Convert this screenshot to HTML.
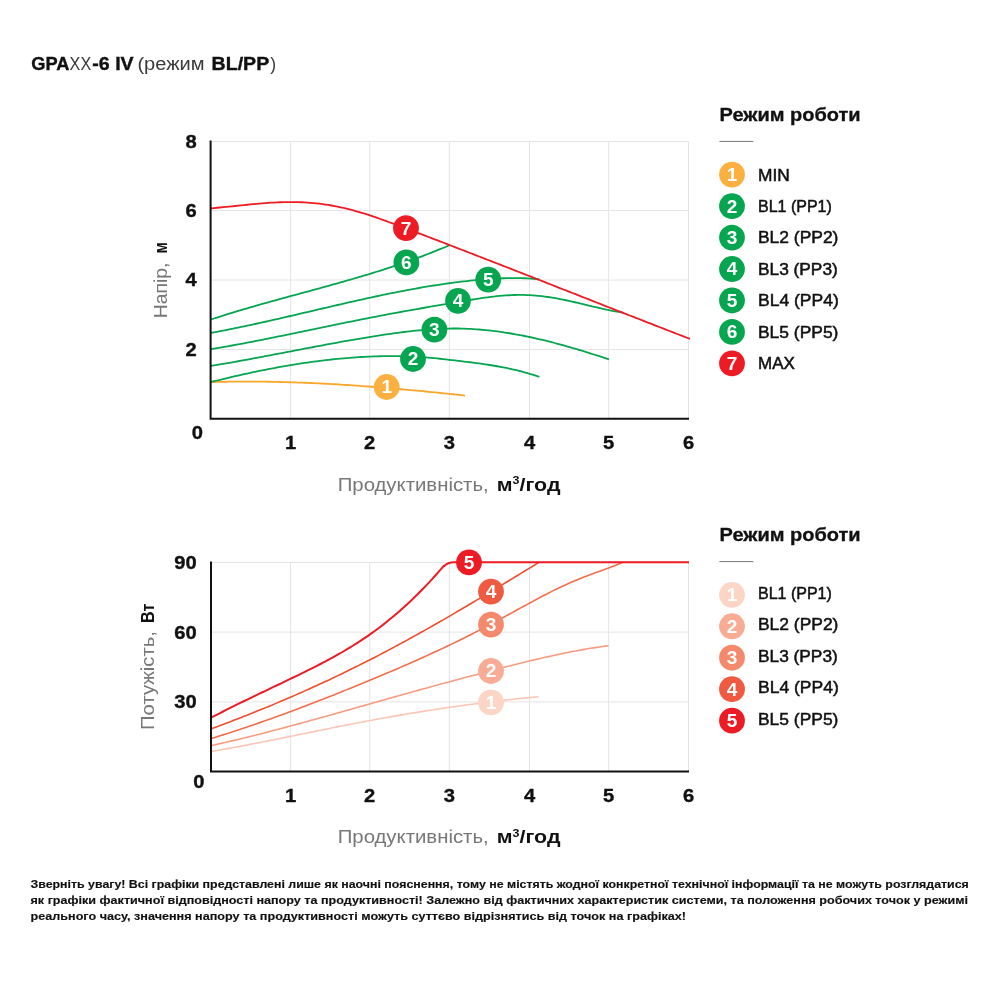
<!DOCTYPE html>
<html><head><meta charset="utf-8"><title>GPAXX-6 IV</title>
<style>
html,body{margin:0;padding:0;background:#fff;}
body{width:1000px;height:1000px;overflow:hidden;font-family:"Liberation Sans", sans-serif;}
svg{display:block;font-family:"Liberation Sans", sans-serif;}
text{font-family:"Liberation Sans", sans-serif;}
</style></head><body>
<svg width="1000" height="1000" viewBox="0 0 1000 1000">
<rect width="1000" height="1000" fill="#ffffff"/>
<text x="31.2" y="70.2" font-size="17.6" font-weight="700" fill="#111111" text-anchor="start" textLength="38.2" lengthAdjust="spacingAndGlyphs" stroke="#111111" stroke-width="0.35">GPA</text>
<text x="69.6" y="70.2" font-size="17.6" font-weight="400" fill="#3a3a3a" text-anchor="start" textLength="21.6" lengthAdjust="spacingAndGlyphs">XX</text>
<text x="92.3" y="70.2" font-size="17.6" font-weight="700" fill="#111111" text-anchor="start" textLength="41.4" lengthAdjust="spacingAndGlyphs" stroke="#111111" stroke-width="0.35">-6 IV</text>
<text x="137.4" y="70.2" font-size="17.6" font-weight="400" fill="#3a3a3a" text-anchor="start" textLength="67.2" lengthAdjust="spacingAndGlyphs">(режим</text>
<text x="211.6" y="70.2" font-size="17.6" font-weight="700" fill="#111111" text-anchor="start" textLength="57.6" lengthAdjust="spacingAndGlyphs" stroke="#111111" stroke-width="0.35">BL/PP</text>
<text x="270.2" y="70.2" font-size="17.6" font-weight="400" fill="#3a3a3a" text-anchor="start">)</text>
<line x1="290.6" y1="141.5" x2="290.6" y2="418.7" stroke="#e4e4e4" stroke-width="1"/>
<line x1="369.7" y1="141.5" x2="369.7" y2="418.7" stroke="#e4e4e4" stroke-width="1"/>
<line x1="449.4" y1="141.5" x2="449.4" y2="418.7" stroke="#e4e4e4" stroke-width="1"/>
<line x1="529.5" y1="141.5" x2="529.5" y2="418.7" stroke="#e4e4e4" stroke-width="1"/>
<line x1="608.7" y1="141.5" x2="608.7" y2="418.7" stroke="#e4e4e4" stroke-width="1"/>
<line x1="688.5" y1="141.5" x2="688.5" y2="418.7" stroke="#e4e4e4" stroke-width="1"/>
<line x1="210.6" y1="141.5" x2="689.0" y2="141.5" stroke="#e4e4e4" stroke-width="1"/>
<line x1="210.6" y1="210.6" x2="689.0" y2="210.6" stroke="#e4e4e4" stroke-width="1"/>
<line x1="210.6" y1="280.0" x2="689.0" y2="280.0" stroke="#e4e4e4" stroke-width="1"/>
<line x1="210.6" y1="349.5" x2="689.0" y2="349.5" stroke="#e4e4e4" stroke-width="1"/>
<path d="M211.0,382.13 L214.0,382.04 L217.0,381.96 L220.1,381.88 L223.1,381.82 L226.1,381.76 L229.1,381.71 L232.2,381.67 L235.2,381.63 L238.2,381.60 L241.2,381.58 L244.3,381.57 L247.3,381.57 L250.3,381.57 L253.3,381.58 L256.4,381.59 L259.4,381.62 L262.4,381.65 L265.4,381.69 L268.5,381.73 L271.5,381.78 L274.5,381.84 L277.5,381.90 L280.5,381.98 L283.6,382.05 L286.6,382.14 L289.6,382.23 L292.6,382.32 L295.7,382.42 L298.7,382.53 L301.7,382.65 L304.7,382.77 L307.8,382.89 L310.8,383.02 L313.8,383.16 L316.8,383.30 L319.9,383.45 L322.9,383.61 L325.9,383.77 L328.9,383.93 L332.0,384.10 L335.0,384.27 L338.0,384.45 L341.0,384.64 L344.0,384.83 L347.1,385.02 L350.1,385.22 L353.1,385.43 L356.1,385.63 L359.2,385.85 L362.2,386.07 L365.2,386.29 L368.2,386.51 L371.3,386.74 L374.3,386.98 L377.3,387.22 L380.3,387.46 L383.4,387.70 L386.4,387.95 L389.4,388.21 L392.4,388.47 L395.5,388.73 L398.5,388.99 L401.5,389.26 L404.5,389.53 L407.5,389.80 L410.6,390.08 L413.6,390.36 L416.6,390.65 L419.6,390.93 L422.7,391.22 L425.7,391.52 L428.7,391.81 L431.7,392.11 L434.8,392.41 L437.8,392.71 L440.8,393.02 L443.8,393.33 L446.9,393.64 L449.9,393.95 L452.9,394.26 L455.9,394.58 L459.0,394.90 L462.0,395.22 L465.0,395.54" fill="none" stroke="#FBA629" stroke-width="1.8" stroke-linecap="butt" stroke-linejoin="round"/>
<path d="M211.0,381.99 L214.0,381.24 L217.0,380.50 L220.0,379.76 L223.1,379.03 L226.1,378.31 L229.1,377.60 L232.1,376.90 L235.1,376.21 L238.1,375.52 L241.1,374.84 L244.1,374.17 L247.2,373.51 L250.2,372.87 L253.2,372.22 L256.2,371.59 L259.2,370.97 L262.2,370.36 L265.2,369.76 L268.2,369.17 L271.3,368.59 L274.3,368.02 L277.3,367.47 L280.3,366.92 L283.3,366.38 L286.3,365.86 L289.3,365.35 L292.3,364.85 L295.4,364.36 L298.4,363.88 L301.4,363.42 L304.4,362.96 L307.4,362.53 L310.4,362.10 L313.4,361.69 L316.4,361.29 L319.5,360.90 L322.5,360.53 L325.5,360.17 L328.5,359.82 L331.5,359.49 L334.5,359.17 L337.5,358.87 L340.6,358.58 L343.6,358.31 L346.6,358.05 L349.6,357.81 L352.6,357.58 L355.6,357.37 L358.6,357.17 L361.6,356.99 L364.7,356.82 L367.7,356.68 L370.7,356.54 L373.7,356.43 L376.7,356.33 L379.7,356.25 L382.7,356.18 L385.7,356.13 L388.8,356.10 L391.8,356.09 L394.8,356.09 L397.8,356.12 L400.8,356.16 L403.8,356.22 L406.8,356.31 L409.8,356.41 L412.9,356.54 L415.9,356.69 L418.9,356.86 L421.9,357.06 L424.9,357.29 L427.9,357.54 L430.9,357.81 L434.0,358.11 L437.0,358.42 L440.0,358.75 L443.0,359.09 L446.0,359.43 L449.0,359.78 L452.0,360.12 L455.0,360.47 L458.1,360.82 L461.1,361.17 L464.1,361.53 L467.1,361.89 L470.1,362.26 L473.1,362.64 L476.1,363.04 L479.1,363.44 L482.2,363.87 L485.2,364.31 L488.2,364.76 L491.2,365.24 L494.2,365.74 L497.2,366.26 L500.2,366.81 L503.2,367.38 L506.3,367.99 L509.3,368.62 L512.3,369.28 L515.3,369.98 L518.3,370.72 L521.3,371.48 L524.3,372.29 L527.3,373.14 L530.4,374.03 L533.4,374.96 L536.4,375.94 L539.4,376.96" fill="none" stroke="#06A550" stroke-width="1.8" stroke-linecap="butt" stroke-linejoin="round"/>
<path d="M211.0,365.95 L214.0,365.45 L217.0,364.94 L220.0,364.43 L223.1,363.91 L226.1,363.39 L229.1,362.86 L232.1,362.33 L235.1,361.79 L238.1,361.25 L241.2,360.70 L244.2,360.15 L247.2,359.60 L250.2,359.04 L253.2,358.48 L256.2,357.92 L259.2,357.35 L262.3,356.78 L265.3,356.21 L268.3,355.64 L271.3,355.07 L274.3,354.49 L277.3,353.92 L280.3,353.34 L283.4,352.76 L286.4,352.18 L289.4,351.60 L292.4,351.03 L295.4,350.45 L298.4,349.87 L301.5,349.29 L304.5,348.72 L307.5,348.14 L310.5,347.57 L313.5,347.00 L316.5,346.43 L319.5,345.86 L322.6,345.30 L325.6,344.74 L328.6,344.18 L331.6,343.63 L334.6,343.08 L337.6,342.53 L340.7,341.98 L343.7,341.44 L346.7,340.91 L349.7,340.38 L352.7,339.85 L355.7,339.34 L358.7,338.82 L361.8,338.31 L364.8,337.81 L367.8,337.31 L370.8,336.82 L373.8,336.34 L376.8,335.86 L379.8,335.40 L382.9,334.93 L385.9,334.48 L388.9,334.04 L391.9,333.60 L394.9,333.18 L397.9,332.77 L401.0,332.37 L404.0,331.99 L407.0,331.62 L410.0,331.27 L413.0,330.93 L416.0,330.61 L419.0,330.31 L422.1,330.03 L425.1,329.77 L428.1,329.53 L431.1,329.32 L434.1,329.12 L437.1,328.95 L440.2,328.81 L443.2,328.69 L446.2,328.60 L449.2,328.54 L452.2,328.50 L455.2,328.50 L458.2,328.52 L461.3,328.58 L464.3,328.66 L467.3,328.78 L470.3,328.92 L473.3,329.09 L476.3,329.30 L479.3,329.52 L482.4,329.78 L485.4,330.06 L488.4,330.37 L491.4,330.71 L494.4,331.07 L497.4,331.46 L500.5,331.87 L503.5,332.31 L506.5,332.77 L509.5,333.25 L512.5,333.76 L515.5,334.28 L518.5,334.84 L521.6,335.41 L524.6,336.00 L527.6,336.62 L530.6,337.25 L533.6,337.90 L536.6,338.58 L539.7,339.27 L542.7,339.98 L545.7,340.71 L548.7,341.46 L551.7,342.22 L554.7,343.00 L557.7,343.80 L560.8,344.62 L563.8,345.44 L566.8,346.29 L569.8,347.15 L572.8,348.02 L575.8,348.91 L578.8,349.80 L581.9,350.72 L584.9,351.64 L587.9,352.58 L590.9,353.53 L593.9,354.49 L596.9,355.45 L600.0,356.43 L603.0,357.42 L606.0,358.42 L609.0,359.43" fill="none" stroke="#06A550" stroke-width="1.8" stroke-linecap="butt" stroke-linejoin="round"/>
<path d="M211.0,349.21 L214.0,348.70 L217.0,348.19 L220.0,347.66 L223.0,347.13 L226.0,346.60 L229.0,346.05 L232.1,345.50 L235.1,344.95 L238.1,344.39 L241.1,343.83 L244.1,343.26 L247.1,342.69 L250.1,342.11 L253.1,341.53 L256.1,340.94 L259.1,340.35 L262.1,339.76 L265.1,339.16 L268.1,338.56 L271.1,337.95 L274.2,337.35 L277.2,336.74 L280.2,336.13 L283.2,335.51 L286.2,334.90 L289.2,334.28 L292.2,333.66 L295.2,333.04 L298.2,332.42 L301.2,331.80 L304.2,331.17 L307.2,330.55 L310.2,329.92 L313.2,329.30 L316.3,328.68 L319.3,328.05 L322.3,327.43 L325.3,326.80 L328.3,326.18 L331.3,325.56 L334.3,324.94 L337.3,324.32 L340.3,323.70 L343.3,323.09 L346.3,322.48 L349.3,321.87 L352.3,321.26 L355.4,320.65 L358.4,320.05 L361.4,319.45 L364.4,318.85 L367.4,318.26 L370.4,317.67 L373.4,317.09 L376.4,316.51 L379.4,315.93 L382.4,315.36 L385.4,314.79 L388.4,314.23 L391.4,313.67 L394.4,313.11 L397.5,312.56 L400.5,312.01 L403.5,311.47 L406.5,310.93 L409.5,310.39 L412.5,309.85 L415.5,309.32 L418.5,308.79 L421.5,308.26 L424.5,307.74 L427.5,307.21 L430.5,306.69 L433.5,306.17 L436.5,305.65 L439.6,305.13 L442.6,304.62 L445.6,304.10 L448.6,303.58 L451.6,303.07 L454.6,302.55 L457.6,302.04 L460.6,301.53 L463.6,301.01 L466.6,300.51 L469.6,300.01 L472.6,299.51 L475.6,299.03 L478.6,298.57 L481.7,298.12 L484.7,297.69 L487.7,297.28 L490.7,296.89 L493.7,296.53 L496.7,296.21 L499.7,295.91 L502.7,295.65 L505.7,295.43 L508.7,295.24 L511.7,295.10 L514.7,295.00 L517.7,294.94 L520.8,294.93 L523.8,294.97 L526.8,295.05 L529.8,295.19 L532.8,295.37 L535.8,295.61 L538.8,295.89 L541.8,296.21 L544.8,296.58 L547.8,296.99 L550.8,297.44 L553.8,297.93 L556.8,298.46 L559.8,299.03 L562.9,299.62 L565.9,300.25 L568.9,300.90 L571.9,301.57 L574.9,302.25 L577.9,302.95 L580.9,303.67 L583.9,304.38 L586.9,305.10 L589.9,305.82 L592.9,306.54 L595.9,307.24 L598.9,307.94 L601.9,308.62 L605.0,309.28 L608.0,309.92 L611.0,310.53 L614.0,311.11 L617.0,311.66 L620.0,312.17 L623.0,312.64" fill="none" stroke="#06A550" stroke-width="1.8" stroke-linecap="butt" stroke-linejoin="round"/>
<path d="M211.0,332.88 L214.0,332.33 L217.0,331.77 L220.0,331.19 L223.1,330.61 L226.1,330.02 L229.1,329.43 L232.1,328.82 L235.1,328.21 L238.1,327.59 L241.1,326.97 L244.2,326.34 L247.2,325.70 L250.2,325.05 L253.2,324.40 L256.2,323.75 L259.2,323.09 L262.2,322.42 L265.2,321.75 L268.3,321.07 L271.3,320.39 L274.3,319.71 L277.3,319.03 L280.3,318.34 L283.3,317.64 L286.3,316.95 L289.4,316.25 L292.4,315.55 L295.4,314.85 L298.4,314.15 L301.4,313.44 L304.4,312.74 L307.4,312.03 L310.5,311.33 L313.5,310.62 L316.5,309.91 L319.5,309.21 L322.5,308.50 L325.5,307.80 L328.5,307.09 L331.6,306.39 L334.6,305.69 L337.6,305.00 L340.6,304.30 L343.6,303.61 L346.6,302.92 L349.6,302.23 L352.6,301.55 L355.7,300.87 L358.7,300.20 L361.7,299.53 L364.7,298.86 L367.7,298.20 L370.7,297.55 L373.7,296.90 L376.8,296.25 L379.8,295.62 L382.8,294.98 L385.8,294.36 L388.8,293.74 L391.8,293.13 L394.8,292.53 L397.9,291.93 L400.9,291.34 L403.9,290.76 L406.9,290.19 L409.9,289.63 L412.9,289.08 L415.9,288.54 L418.9,288.00 L422.0,287.48 L425.0,286.96 L428.0,286.46 L431.0,285.97 L434.0,285.49 L437.0,285.02 L440.0,284.56 L443.1,284.12 L446.1,283.68 L449.1,283.26 L452.1,282.85 L455.1,282.46 L458.1,282.08 L461.1,281.71 L464.2,281.36 L467.2,281.02 L470.2,280.69 L473.2,280.38 L476.2,280.08 L479.2,279.81 L482.2,279.54 L485.3,279.30 L488.3,279.07 L491.3,278.86 L494.3,278.68 L497.3,278.52 L500.3,278.38 L503.3,278.26 L506.3,278.18 L509.4,278.12 L512.4,278.08 L515.4,278.08 L518.4,278.11 L521.4,278.17 L524.4,278.27 L527.4,278.39 L530.5,278.56 L533.5,278.76 L536.5,279.00 L539.5,279.28" fill="none" stroke="#06A550" stroke-width="1.8" stroke-linecap="butt" stroke-linejoin="round"/>
<path d="M211.0,319.50 L214.0,318.51 L217.0,317.53 L220.0,316.57 L223.1,315.61 L226.1,314.67 L229.1,313.73 L232.1,312.81 L235.1,311.89 L238.1,310.98 L241.1,310.08 L244.1,309.19 L247.2,308.31 L250.2,307.43 L253.2,306.56 L256.2,305.70 L259.2,304.84 L262.2,303.98 L265.2,303.14 L268.2,302.29 L271.3,301.45 L274.3,300.62 L277.3,299.79 L280.3,298.96 L283.3,298.13 L286.3,297.31 L289.3,296.49 L292.3,295.67 L295.4,294.85 L298.4,294.03 L301.4,293.21 L304.4,292.40 L307.4,291.58 L310.4,290.76 L313.4,289.94 L316.4,289.12 L319.5,288.29 L322.5,287.47 L325.5,286.64 L328.5,285.81 L331.5,284.97 L334.5,284.13 L337.5,283.29 L340.5,282.44 L343.6,281.59 L346.6,280.73 L349.6,279.86 L352.6,278.99 L355.6,278.11 L358.6,277.23 L361.6,276.33 L364.6,275.43 L367.7,274.52 L370.7,273.61 L373.7,272.68 L376.7,271.75 L379.7,270.80 L382.7,269.84 L385.7,268.88 L388.7,267.90 L391.8,266.91 L394.8,265.91 L397.8,264.90 L400.8,263.87 L403.8,262.83 L406.8,261.78 L409.8,260.71 L412.8,259.63 L415.9,258.54 L418.9,257.43 L421.9,256.31 L424.9,255.17 L427.9,254.01 L430.9,252.84 L433.9,251.65 L436.9,250.44 L440.0,249.21 L443.0,247.97 L446.0,246.71 L449.0,245.43" fill="none" stroke="#06A550" stroke-width="1.8" stroke-linecap="butt" stroke-linejoin="round"/>
<path d="M211.0,208.28 L214.0,208.03 L217.0,207.77 L220.0,207.49 L223.1,207.20 L226.1,206.91 L229.1,206.60 L232.1,206.29 L235.1,205.98 L238.1,205.67 L241.1,205.36 L244.1,205.05 L247.2,204.74 L250.2,204.45 L253.2,204.16 L256.2,203.88 L259.2,203.61 L262.2,203.36 L265.2,203.12 L268.2,202.90 L271.3,202.71 L274.3,202.53 L277.3,202.38 L280.3,202.25 L283.3,202.15 L286.3,202.08 L289.3,202.05 L292.3,202.04 L295.4,202.07 L298.4,202.14 L301.4,202.25 L304.4,202.39 L307.4,202.58 L310.4,202.80 L313.4,203.06 L316.4,203.37 L319.5,203.71 L322.5,204.09 L325.5,204.52 L328.5,204.98 L331.5,205.49 L334.5,206.04 L337.5,206.63 L340.5,207.27 L343.6,207.95 L346.6,208.66 L349.6,209.42 L352.6,210.22 L355.6,211.05 L358.6,211.91 L361.6,212.81 L364.6,213.73 L367.7,214.68 L370.7,215.66 L373.7,216.66 L376.7,217.69 L379.7,218.73 L382.7,219.80 L385.7,220.87 L388.7,221.97 L391.8,223.07 L394.8,224.19 L397.8,225.31 L400.8,226.44 L403.8,227.58 L406.8,228.72 L409.8,229.86 L412.8,231.00 L415.9,232.15 L418.9,233.29 L421.9,234.44 L424.9,235.59 L427.9,236.74 L430.9,237.89 L433.9,239.04 L436.9,240.20 L440.0,241.35 L443.0,242.51 L446.0,243.67 L449.0,244.82 L452.0,245.98 L455.0,247.15 L458.0,248.31 L461.0,249.47 L464.1,250.64 L467.1,251.80 L470.1,252.97 L473.1,254.13 L476.1,255.30 L479.1,256.47 L482.1,257.64 L485.1,258.81 L488.2,259.99 L491.2,261.16 L494.2,262.33 L497.2,263.51 L500.2,264.68 L503.2,265.86 L506.2,267.03 L509.2,268.21 L512.3,269.39 L515.3,270.57 L518.3,271.74 L521.3,272.92 L524.3,274.10 L527.3,275.28 L530.3,276.46 L533.3,277.64 L536.4,278.83 L539.4,280.01 L542.4,281.19 L545.4,282.37 L548.4,283.55 L551.4,284.74 L554.4,285.92 L557.4,287.10 L560.5,288.29 L563.5,289.47 L566.5,290.65 L569.5,291.84 L572.5,293.02 L575.5,294.20 L578.5,295.39 L581.5,296.57 L584.6,297.76 L587.6,298.94 L590.6,300.12 L593.6,301.31 L596.6,302.49 L599.6,303.67 L602.6,304.85 L605.6,306.04 L608.7,307.22 L611.7,308.40 L614.7,309.58 L617.7,310.76 L620.7,311.94 L623.7,313.12 L626.7,314.30 L629.7,315.48 L632.8,316.66 L635.8,317.84 L638.8,319.01 L641.8,320.19 L644.8,321.36 L647.8,322.54 L650.8,323.71 L653.8,324.89 L656.9,326.06 L659.9,327.23 L662.9,328.40 L665.9,329.58 L668.9,330.75 L671.9,331.91 L674.9,333.08 L677.9,334.25 L681.0,335.41 L684.0,336.58 L687.0,337.74 L690.0,338.91" fill="none" stroke="#ED1C24" stroke-width="1.8" stroke-linecap="butt" stroke-linejoin="round"/>
<path d="M210.6,140.5 V418.7 H689.0" fill="none" stroke="#111111" stroke-width="2" stroke-linejoin="miter"/>
<circle cx="386.7" cy="387.0" r="12.9" fill="#FBB040"/>
<text transform="translate(386.7,393.44) scale(1.06,1)" font-size="18" font-weight="700" fill="#fff" text-anchor="middle">1</text>
<circle cx="413.0" cy="359.0" r="12.9" fill="#06A550"/>
<text transform="translate(413.0,365.44) scale(1.06,1)" font-size="18" font-weight="700" fill="#fff" text-anchor="middle">2</text>
<circle cx="434.4" cy="329.7" r="12.9" fill="#06A550"/>
<text transform="translate(434.4,336.14) scale(1.06,1)" font-size="18" font-weight="700" fill="#fff" text-anchor="middle">3</text>
<circle cx="458" cy="300.8" r="12.9" fill="#06A550"/>
<text transform="translate(458,307.24) scale(1.06,1)" font-size="18" font-weight="700" fill="#fff" text-anchor="middle">4</text>
<circle cx="488.2" cy="279.6" r="12.9" fill="#06A550"/>
<text transform="translate(488.2,286.04) scale(1.06,1)" font-size="18" font-weight="700" fill="#fff" text-anchor="middle">5</text>
<circle cx="406.4" cy="262.4" r="12.9" fill="#06A550"/>
<text transform="translate(406.4,268.84) scale(1.06,1)" font-size="18" font-weight="700" fill="#fff" text-anchor="middle">6</text>
<circle cx="406" cy="228.2" r="12.9" fill="#ED1C24"/>
<text transform="translate(406,234.64) scale(1.06,1)" font-size="18" font-weight="700" fill="#fff" text-anchor="middle">7</text>
<text transform="translate(196.7,147.9) scale(1.12,1)" font-size="18" font-weight="700" fill="#111111" stroke="#111111" stroke-width="0.35" text-anchor="end">8</text>
<text transform="translate(196.7,217.0) scale(1.12,1)" font-size="18" font-weight="700" fill="#111111" stroke="#111111" stroke-width="0.35" text-anchor="end">6</text>
<text transform="translate(196.7,286.4) scale(1.12,1)" font-size="18" font-weight="700" fill="#111111" stroke="#111111" stroke-width="0.35" text-anchor="end">4</text>
<text transform="translate(196.7,355.9) scale(1.12,1)" font-size="18" font-weight="700" fill="#111111" stroke="#111111" stroke-width="0.35" text-anchor="end">2</text>
<text transform="translate(203.0,438.9) scale(1.12,1)" font-size="18" font-weight="700" fill="#111111" stroke="#111111" stroke-width="0.35" text-anchor="end">0</text>
<text transform="translate(290.6,448.7) scale(1.12,1)" font-size="18" font-weight="700" fill="#111111" stroke="#111111" stroke-width="0.35" text-anchor="middle">1</text>
<text transform="translate(369.7,448.7) scale(1.12,1)" font-size="18" font-weight="700" fill="#111111" stroke="#111111" stroke-width="0.35" text-anchor="middle">2</text>
<text transform="translate(449.4,448.7) scale(1.12,1)" font-size="18" font-weight="700" fill="#111111" stroke="#111111" stroke-width="0.35" text-anchor="middle">3</text>
<text transform="translate(529.5,448.7) scale(1.12,1)" font-size="18" font-weight="700" fill="#111111" stroke="#111111" stroke-width="0.35" text-anchor="middle">4</text>
<text transform="translate(608.7,448.7) scale(1.12,1)" font-size="18" font-weight="700" fill="#111111" stroke="#111111" stroke-width="0.35" text-anchor="middle">5</text>
<text transform="translate(688.5,448.7) scale(1.12,1)" font-size="18" font-weight="700" fill="#111111" stroke="#111111" stroke-width="0.35" text-anchor="middle">6</text>
<text x="337.7" y="490.7" font-size="18" fill="#777777" textLength="151" lengthAdjust="spacingAndGlyphs">Продуктивність,</text>
<text x="496.8" y="490.7" font-size="18" font-weight="700" fill="#111111" textLength="63.7" lengthAdjust="spacingAndGlyphs">м<tspan font-size="10.5" dy="-6.5">3</tspan><tspan dy="6.5">/год</tspan></text>
<g transform="translate(166.6,318.2) rotate(-90)"><text x="0" y="0" font-size="18" fill="#777777" textLength="55.6" lengthAdjust="spacingAndGlyphs">Напір,</text><text x="64.6" y="0" font-size="18" font-weight="700" fill="#111111" textLength="11.4" lengthAdjust="spacingAndGlyphs">м</text></g>
<text x="719.6" y="121" font-size="17.5" font-weight="700" fill="#111111" text-anchor="start" textLength="141" lengthAdjust="spacingAndGlyphs" stroke="#111111" stroke-width="0.3">Режим роботи</text>
<line x1="719.4" y1="141.4" x2="753.4" y2="141.4" stroke="#777" stroke-width="1"/>
<circle cx="732" cy="174.6" r="12.9" fill="#FBB040"/>
<text transform="translate(732,181.04) scale(1.06,1)" font-size="18" font-weight="700" fill="#fff" text-anchor="middle">1</text>
<text x="758.0" y="180.50" font-size="16.2" fill="#111111" stroke="#111111" stroke-width="0.5" textLength="31.8" lengthAdjust="spacingAndGlyphs">MIN</text>
<circle cx="732" cy="206.07" r="12.9" fill="#06A550"/>
<text transform="translate(732,212.51) scale(1.06,1)" font-size="18" font-weight="700" fill="#fff" text-anchor="middle">2</text>
<text x="758.0" y="211.97" font-size="16.2" fill="#111111" stroke="#111111" stroke-width="0.5" textLength="73.8" lengthAdjust="spacingAndGlyphs">BL1 (PP1)</text>
<circle cx="732" cy="237.54" r="12.9" fill="#06A550"/>
<text transform="translate(732,243.98) scale(1.06,1)" font-size="18" font-weight="700" fill="#fff" text-anchor="middle">3</text>
<text x="758.0" y="243.44" font-size="16.2" fill="#111111" stroke="#111111" stroke-width="0.5" textLength="80.4" lengthAdjust="spacingAndGlyphs">BL2 (PP2)</text>
<circle cx="732" cy="269.01" r="12.9" fill="#06A550"/>
<text transform="translate(732,275.45) scale(1.06,1)" font-size="18" font-weight="700" fill="#fff" text-anchor="middle">4</text>
<text x="758.0" y="274.91" font-size="16.2" fill="#111111" stroke="#111111" stroke-width="0.5" textLength="79.8" lengthAdjust="spacingAndGlyphs">BL3 (PP3)</text>
<circle cx="732" cy="300.48" r="12.9" fill="#06A550"/>
<text transform="translate(732,306.92) scale(1.06,1)" font-size="18" font-weight="700" fill="#fff" text-anchor="middle">5</text>
<text x="758.0" y="306.38" font-size="16.2" fill="#111111" stroke="#111111" stroke-width="0.5" textLength="80.8" lengthAdjust="spacingAndGlyphs">BL4 (PP4)</text>
<circle cx="732" cy="331.95" r="12.9" fill="#06A550"/>
<text transform="translate(732,338.39) scale(1.06,1)" font-size="18" font-weight="700" fill="#fff" text-anchor="middle">6</text>
<text x="758.0" y="337.85" font-size="16.2" fill="#111111" stroke="#111111" stroke-width="0.5" textLength="80.4" lengthAdjust="spacingAndGlyphs">BL5 (PP5)</text>
<circle cx="732" cy="363.42" r="12.9" fill="#ED1C24"/>
<text transform="translate(732,369.86) scale(1.06,1)" font-size="18" font-weight="700" fill="#fff" text-anchor="middle">7</text>
<text x="758.0" y="369.32" font-size="16.2" fill="#111111" stroke="#111111" stroke-width="0.5" textLength="36.8" lengthAdjust="spacingAndGlyphs">MAX</text>
<line x1="290.6" y1="562.5" x2="290.6" y2="771.6" stroke="#e4e4e4" stroke-width="1"/>
<line x1="369.7" y1="562.5" x2="369.7" y2="771.6" stroke="#e4e4e4" stroke-width="1"/>
<line x1="449.4" y1="562.5" x2="449.4" y2="771.6" stroke="#e4e4e4" stroke-width="1"/>
<line x1="529.5" y1="562.5" x2="529.5" y2="771.6" stroke="#e4e4e4" stroke-width="1"/>
<line x1="608.7" y1="562.5" x2="608.7" y2="771.6" stroke="#e4e4e4" stroke-width="1"/>
<line x1="688.5" y1="562.5" x2="688.5" y2="771.6" stroke="#e4e4e4" stroke-width="1"/>
<line x1="211.0" y1="562.5" x2="689.0" y2="562.5" stroke="#e4e4e4" stroke-width="1"/>
<line x1="211.0" y1="632.1" x2="689.0" y2="632.1" stroke="#e4e4e4" stroke-width="1"/>
<line x1="211.0" y1="701.9" x2="689.0" y2="701.9" stroke="#e4e4e4" stroke-width="1"/>
<path d="M211.0,751.55 L214.0,751.03 L217.0,750.51 L220.0,749.98 L223.0,749.45 L226.0,748.91 L229.0,748.36 L232.0,747.81 L235.0,747.26 L238.0,746.70 L241.1,746.13 L244.1,745.56 L247.1,744.99 L250.1,744.41 L253.1,743.83 L256.1,743.25 L259.1,742.66 L262.1,742.07 L265.1,741.47 L268.1,740.88 L271.1,740.28 L274.1,739.67 L277.1,739.07 L280.1,738.47 L283.1,737.86 L286.1,737.25 L289.1,736.64 L292.1,736.03 L295.2,735.42 L298.2,734.80 L301.2,734.19 L304.2,733.58 L307.2,732.97 L310.2,732.35 L313.2,731.74 L316.2,731.13 L319.2,730.52 L322.2,729.91 L325.2,729.30 L328.2,728.69 L331.2,728.09 L334.2,727.48 L337.2,726.88 L340.2,726.28 L343.2,725.69 L346.2,725.10 L349.3,724.51 L352.3,723.92 L355.3,723.33 L358.3,722.75 L361.3,722.18 L364.3,721.61 L367.3,721.04 L370.3,720.48 L373.3,719.92 L376.3,719.36 L379.3,718.81 L382.3,718.27 L385.3,717.73 L388.3,717.19 L391.3,716.66 L394.3,716.14 L397.3,715.62 L400.3,715.10 L403.4,714.59 L406.4,714.08 L409.4,713.58 L412.4,713.08 L415.4,712.59 L418.4,712.10 L421.4,711.62 L424.4,711.14 L427.4,710.67 L430.4,710.20 L433.4,709.74 L436.4,709.28 L439.4,708.83 L442.4,708.38 L445.4,707.93 L448.4,707.50 L451.4,707.06 L454.4,706.63 L457.5,706.21 L460.5,705.79 L463.5,705.38 L466.5,704.97 L469.5,704.57 L472.5,704.17 L475.5,703.77 L478.5,703.39 L481.5,703.00 L484.5,702.63 L487.5,702.25 L490.5,701.89 L493.5,701.52 L496.5,701.17 L499.5,700.81 L502.5,700.47 L505.5,700.13 L508.5,699.79 L511.6,699.46 L514.6,699.13 L517.6,698.81 L520.6,698.50 L523.6,698.19 L526.6,697.88 L529.6,697.58 L532.6,697.29 L535.6,697.00 L538.6,696.71" fill="none" stroke="#FBC6B3" stroke-width="1.6" stroke-linecap="butt" stroke-linejoin="round"/>
<path d="M211.0,745.67 L214.0,745.00 L217.0,744.33 L220.0,743.64 L223.0,742.95 L226.1,742.26 L229.1,741.56 L232.1,740.85 L235.1,740.13 L238.1,739.41 L241.1,738.68 L244.1,737.95 L247.1,737.21 L250.2,736.46 L253.2,735.71 L256.2,734.96 L259.2,734.20 L262.2,733.43 L265.2,732.66 L268.2,731.88 L271.2,731.10 L274.3,730.32 L277.3,729.53 L280.3,728.73 L283.3,727.94 L286.3,727.13 L289.3,726.33 L292.3,725.52 L295.3,724.71 L298.4,723.89 L301.4,723.07 L304.4,722.25 L307.4,721.43 L310.4,720.60 L313.4,719.77 L316.4,718.93 L319.4,718.10 L322.4,717.26 L325.5,716.42 L328.5,715.58 L331.5,714.74 L334.5,713.89 L337.5,713.05 L340.5,712.20 L343.5,711.35 L346.5,710.50 L349.6,709.65 L352.6,708.80 L355.6,707.94 L358.6,707.09 L361.6,706.24 L364.6,705.38 L367.6,704.53 L370.6,703.68 L373.7,702.82 L376.7,701.97 L379.7,701.12 L382.7,700.27 L385.7,699.42 L388.7,698.57 L391.7,697.72 L394.7,696.87 L397.8,696.02 L400.8,695.18 L403.8,694.34 L406.8,693.49 L409.8,692.65 L412.8,691.82 L415.8,690.98 L418.8,690.14 L421.8,689.31 L424.9,688.48 L427.9,687.65 L430.9,686.82 L433.9,686.00 L436.9,685.17 L439.9,684.35 L442.9,683.53 L445.9,682.71 L449.0,681.90 L452.0,681.09 L455.0,680.27 L458.0,679.46 L461.0,678.66 L464.0,677.85 L467.0,677.05 L470.0,676.25 L473.1,675.45 L476.1,674.65 L479.1,673.86 L482.1,673.07 L485.1,672.28 L488.1,671.49 L491.1,670.71 L494.1,669.92 L497.2,669.15 L500.2,668.37 L503.2,667.60 L506.2,666.83 L509.2,666.06 L512.2,665.30 L515.2,664.54 L518.2,663.79 L521.2,663.04 L524.3,662.30 L527.3,661.56 L530.3,660.83 L533.3,660.11 L536.3,659.39 L539.3,658.69 L542.3,657.99 L545.3,657.30 L548.4,656.61 L551.4,655.94 L554.4,655.28 L557.4,654.63 L560.4,653.99 L563.4,653.36 L566.4,652.75 L569.4,652.14 L572.5,651.55 L575.5,650.98 L578.5,650.42 L581.5,649.87 L584.5,649.34 L587.5,648.82 L590.5,648.32 L593.5,647.84 L596.6,647.37 L599.6,646.93 L602.6,646.50 L605.6,646.09 L608.6,645.69" fill="none" stroke="#F79C80" stroke-width="1.6" stroke-linecap="butt" stroke-linejoin="round"/>
<path d="M211.0,738.61 L214.0,737.69 L217.0,736.76 L220.0,735.82 L223.0,734.87 L226.0,733.92 L229.0,732.95 L232.1,731.98 L235.1,731.00 L238.1,730.01 L241.1,729.02 L244.1,728.01 L247.1,727.00 L250.1,725.98 L253.1,724.95 L256.1,723.92 L259.1,722.87 L262.1,721.82 L265.1,720.76 L268.1,719.70 L271.1,718.63 L274.2,717.55 L277.2,716.46 L280.2,715.37 L283.2,714.27 L286.2,713.17 L289.2,712.06 L292.2,710.94 L295.2,709.82 L298.2,708.69 L301.2,707.55 L304.2,706.41 L307.2,705.26 L310.2,704.11 L313.2,702.95 L316.3,701.79 L319.3,700.62 L322.3,699.45 L325.3,698.27 L328.3,697.08 L331.3,695.89 L334.3,694.70 L337.3,693.50 L340.3,692.30 L343.3,691.10 L346.3,689.88 L349.3,688.67 L352.3,687.45 L355.4,686.23 L358.4,685.00 L361.4,683.77 L364.4,682.54 L367.4,681.30 L370.4,680.06 L373.4,678.81 L376.4,677.56 L379.4,676.30 L382.4,675.04 L385.4,673.78 L388.4,672.50 L391.4,671.23 L394.4,669.94 L397.5,668.65 L400.5,667.36 L403.5,666.05 L406.5,664.74 L409.5,663.42 L412.5,662.10 L415.5,660.77 L418.5,659.43 L421.5,658.08 L424.5,656.72 L427.5,655.36 L430.5,653.98 L433.5,652.60 L436.5,651.21 L439.6,649.81 L442.6,648.39 L445.6,646.97 L448.6,645.54 L451.6,644.10 L454.6,642.65 L457.6,641.18 L460.6,639.71 L463.6,638.22 L466.6,636.73 L469.6,635.22 L472.6,633.70 L475.6,632.16 L478.6,630.62 L481.7,629.06 L484.7,627.49 L487.7,625.91 L490.7,624.31 L493.7,622.70 L496.7,621.07 L499.7,619.44 L502.7,617.80 L505.7,616.15 L508.7,614.50 L511.7,612.84 L514.7,611.19 L517.7,609.53 L520.8,607.88 L523.8,606.23 L526.8,604.59 L529.8,602.95 L532.8,601.33 L535.8,599.72 L538.8,598.12 L541.8,596.54 L544.8,594.97 L547.8,593.43 L550.8,591.90 L553.8,590.40 L556.8,588.92 L559.8,587.47 L562.9,586.05 L565.9,584.65 L568.9,583.29 L571.9,581.97 L574.9,580.67 L577.9,579.42 L580.9,578.21 L583.9,577.03 L586.9,575.89 L589.9,574.76 L592.9,573.66 L595.9,572.57 L598.9,571.48 L601.9,570.39 L605.0,569.28 L608.0,568.17 L611.0,567.04 L614.0,565.90 L617.0,564.73 L620.0,563.54 L623.0,562.32" fill="none" stroke="#F26F4C" stroke-width="1.6" stroke-linecap="butt" stroke-linejoin="round"/>
<path d="M211.0,728.88 L214.0,727.77 L217.0,726.66 L220.0,725.54 L223.0,724.42 L226.0,723.28 L229.1,722.14 L232.1,720.99 L235.1,719.84 L238.1,718.68 L241.1,717.51 L244.1,716.33 L247.1,715.14 L250.1,713.95 L253.1,712.75 L256.1,711.54 L259.1,710.33 L262.2,709.11 L265.2,707.87 L268.2,706.64 L271.2,705.39 L274.2,704.13 L277.2,702.87 L280.2,701.60 L283.2,700.32 L286.2,699.04 L289.2,697.74 L292.2,696.44 L295.3,695.13 L298.3,693.81 L301.3,692.48 L304.3,691.14 L307.3,689.80 L310.3,688.45 L313.3,687.08 L316.3,685.71 L319.3,684.34 L322.3,682.95 L325.3,681.55 L328.4,680.15 L331.4,678.73 L334.4,677.31 L337.4,675.88 L340.4,674.44 L343.4,672.99 L346.4,671.53 L349.4,670.06 L352.4,668.58 L355.4,667.09 L358.4,665.60 L361.5,664.09 L364.5,662.58 L367.5,661.05 L370.5,659.52 L373.5,657.98 L376.5,656.42 L379.5,654.86 L382.5,653.29 L385.5,651.71 L388.5,650.12 L391.6,648.52 L394.6,646.91 L397.6,645.29 L400.6,643.66 L403.6,642.03 L406.6,640.38 L409.6,638.73 L412.6,637.07 L415.6,635.40 L418.6,633.73 L421.6,632.05 L424.7,630.36 L427.7,628.66 L430.7,626.95 L433.7,625.24 L436.7,623.52 L439.7,621.80 L442.7,620.07 L445.7,618.33 L448.7,616.59 L451.7,614.84 L454.7,613.08 L457.8,611.32 L460.8,609.56 L463.8,607.78 L466.8,606.01 L469.8,604.23 L472.8,602.44 L475.8,600.65 L478.8,598.86 L481.8,597.06 L484.8,595.26 L487.8,593.45 L490.9,591.64 L493.9,589.82 L496.9,588.01 L499.9,586.19 L502.9,584.36 L505.9,582.54 L508.9,580.71 L511.9,578.88 L514.9,577.04 L517.9,575.21 L520.9,573.37 L524.0,571.53 L527.0,569.69 L530.0,567.84 L533.0,566.00 L536.0,564.15 L539.0,562.31" fill="none" stroke="#EE4E2E" stroke-width="1.6" stroke-linecap="butt" stroke-linejoin="round"/>
<path d="M211.0,717.71 L214.0,716.14 L217.1,714.58 L220.1,713.03 L223.1,711.49 L226.1,709.96 L229.2,708.45 L232.2,706.94 L235.2,705.44 L238.2,703.95 L241.3,702.47 L244.3,701.00 L247.3,699.53 L250.3,698.06 L253.4,696.60 L256.4,695.15 L259.4,693.70 L262.4,692.25 L265.5,690.80 L268.5,689.35 L271.5,687.91 L274.5,686.46 L277.6,685.01 L280.6,683.57 L283.6,682.12 L286.6,680.66 L289.7,679.21 L292.7,677.75 L295.7,676.28 L298.8,674.81 L301.8,673.33 L304.8,671.85 L307.8,670.35 L310.9,668.85 L313.9,667.33 L316.9,665.79 L319.9,664.24 L323.0,662.67 L326.0,661.08 L329.0,659.47 L332.0,657.83 L335.1,656.17 L338.1,654.47 L341.1,652.75 L344.1,650.99 L347.2,649.20 L350.2,647.38 L353.2,645.52 L356.2,643.61 L359.3,641.67 L362.3,639.68 L365.3,637.65 L368.4,635.57 L371.4,633.44 L374.4,631.26 L377.4,629.03 L380.5,626.75 L383.5,624.41 L386.5,622.03 L389.5,619.58 L392.6,617.09 L395.6,614.54 L398.6,611.93 L401.6,609.27 L404.7,606.55 L407.7,603.77 L410.7,600.93 L413.7,598.03 L416.8,595.07 L419.8,592.05 L422.8,588.97 L425.8,585.83 L428.9,582.63 L431.9,579.36 L434.9,576.02 L437.9,572.63 L441.0,569.17 L444.0,565.64 L444,566.2 Q448,562.3 454,562.3 L689,562.3" fill="none" stroke="#ED1C24" stroke-width="2" stroke-linejoin="round"/>
<path d="M211.0,561.5 V771.6 H689.0" fill="none" stroke="#111111" stroke-width="2" stroke-linejoin="miter"/>
<circle cx="491" cy="702.4" r="12.9" fill="#FCD5C5"/>
<text transform="translate(491,708.84) scale(1.06,1)" font-size="18" font-weight="700" fill="#fff" text-anchor="middle">1</text>
<circle cx="491" cy="671" r="12.9" fill="#F9AC95"/>
<text transform="translate(491,677.44) scale(1.06,1)" font-size="18" font-weight="700" fill="#fff" text-anchor="middle">2</text>
<circle cx="491" cy="624.6" r="12.9" fill="#F4896B"/>
<text transform="translate(491,631.04) scale(1.06,1)" font-size="18" font-weight="700" fill="#fff" text-anchor="middle">3</text>
<circle cx="491" cy="591.6" r="12.9" fill="#F05A41"/>
<text transform="translate(491,598.04) scale(1.06,1)" font-size="18" font-weight="700" fill="#fff" text-anchor="middle">4</text>
<circle cx="469" cy="562.4" r="12.9" fill="#ED1C24"/>
<text transform="translate(469,568.84) scale(1.06,1)" font-size="18" font-weight="700" fill="#fff" text-anchor="middle">5</text>
<text transform="translate(196.7,568.9) scale(1.12,1)" font-size="18" font-weight="700" fill="#111111" stroke="#111111" stroke-width="0.35" text-anchor="end">90</text>
<text transform="translate(196.7,638.5) scale(1.12,1)" font-size="18" font-weight="700" fill="#111111" stroke="#111111" stroke-width="0.35" text-anchor="end">60</text>
<text transform="translate(196.7,708.3) scale(1.12,1)" font-size="18" font-weight="700" fill="#111111" stroke="#111111" stroke-width="0.35" text-anchor="end">30</text>
<text transform="translate(204.5,788.1) scale(1.12,1)" font-size="18" font-weight="700" fill="#111111" stroke="#111111" stroke-width="0.35" text-anchor="end">0</text>
<text transform="translate(290.6,801.7) scale(1.12,1)" font-size="18" font-weight="700" fill="#111111" stroke="#111111" stroke-width="0.35" text-anchor="middle">1</text>
<text transform="translate(369.7,801.7) scale(1.12,1)" font-size="18" font-weight="700" fill="#111111" stroke="#111111" stroke-width="0.35" text-anchor="middle">2</text>
<text transform="translate(449.4,801.7) scale(1.12,1)" font-size="18" font-weight="700" fill="#111111" stroke="#111111" stroke-width="0.35" text-anchor="middle">3</text>
<text transform="translate(529.5,801.7) scale(1.12,1)" font-size="18" font-weight="700" fill="#111111" stroke="#111111" stroke-width="0.35" text-anchor="middle">4</text>
<text transform="translate(608.7,801.7) scale(1.12,1)" font-size="18" font-weight="700" fill="#111111" stroke="#111111" stroke-width="0.35" text-anchor="middle">5</text>
<text transform="translate(688.5,801.7) scale(1.12,1)" font-size="18" font-weight="700" fill="#111111" stroke="#111111" stroke-width="0.35" text-anchor="middle">6</text>
<text x="337.7" y="843.4" font-size="18" fill="#777777" textLength="151" lengthAdjust="spacingAndGlyphs">Продуктивність,</text>
<text x="496.8" y="843.4" font-size="18" font-weight="700" fill="#111111" textLength="63.7" lengthAdjust="spacingAndGlyphs">м<tspan font-size="10.5" dy="-6.5">3</tspan><tspan dy="6.5">/год</tspan></text>
<g transform="translate(154,730) rotate(-90)"><text x="0" y="0" font-size="18" fill="#777777" textLength="99" lengthAdjust="spacingAndGlyphs">Потужість,</text><text x="107" y="0" font-size="18" font-weight="700" fill="#111111" textLength="19.4" lengthAdjust="spacingAndGlyphs">Вт</text></g>
<text x="719.6" y="541.2" font-size="17.5" font-weight="700" fill="#111111" text-anchor="start" textLength="141" lengthAdjust="spacingAndGlyphs" stroke="#111111" stroke-width="0.3">Режим роботи</text>
<line x1="719.4" y1="561.6" x2="753.4" y2="561.6" stroke="#777" stroke-width="1"/>
<circle cx="732" cy="594.8" r="12.9" fill="#FCD5C5"/>
<text transform="translate(732,601.24) scale(1.06,1)" font-size="18" font-weight="700" fill="#fff" text-anchor="middle">1</text>
<text x="758.0" y="598.80" font-size="16.2" fill="#111111" stroke="#111111" stroke-width="0.5" textLength="73.8" lengthAdjust="spacingAndGlyphs">BL1 (PP1)</text>
<circle cx="732" cy="626.27" r="12.9" fill="#F9AC95"/>
<text transform="translate(732,632.71) scale(1.06,1)" font-size="18" font-weight="700" fill="#fff" text-anchor="middle">2</text>
<text x="758.0" y="630.27" font-size="16.2" fill="#111111" stroke="#111111" stroke-width="0.5" textLength="80.4" lengthAdjust="spacingAndGlyphs">BL2 (PP2)</text>
<circle cx="732" cy="657.74" r="12.9" fill="#F4896B"/>
<text transform="translate(732,664.18) scale(1.06,1)" font-size="18" font-weight="700" fill="#fff" text-anchor="middle">3</text>
<text x="758.0" y="661.74" font-size="16.2" fill="#111111" stroke="#111111" stroke-width="0.5" textLength="79.8" lengthAdjust="spacingAndGlyphs">BL3 (PP3)</text>
<circle cx="732" cy="689.21" r="12.9" fill="#F05A41"/>
<text transform="translate(732,695.65) scale(1.06,1)" font-size="18" font-weight="700" fill="#fff" text-anchor="middle">4</text>
<text x="758.0" y="693.21" font-size="16.2" fill="#111111" stroke="#111111" stroke-width="0.5" textLength="80.8" lengthAdjust="spacingAndGlyphs">BL4 (PP4)</text>
<circle cx="732" cy="720.68" r="12.9" fill="#ED1C24"/>
<text transform="translate(732,727.12) scale(1.06,1)" font-size="18" font-weight="700" fill="#fff" text-anchor="middle">5</text>
<text x="758.0" y="724.68" font-size="16.2" fill="#111111" stroke="#111111" stroke-width="0.5" textLength="80.4" lengthAdjust="spacingAndGlyphs">BL5 (PP5)</text>
<text x="30.5" y="887.5" font-size="11.6" font-weight="700" fill="#111111" text-anchor="start" textLength="938.3" lengthAdjust="spacingAndGlyphs" stroke="#111111" stroke-width="0.15">Зверніть увагу! Всі графіки представлені лише як наочні пояснення, тому не містять жодної конкретної технічної інформації та не можуть розглядатися</text>
<text x="30.5" y="903.75" font-size="11.6" font-weight="700" fill="#111111" text-anchor="start" textLength="937.5" lengthAdjust="spacingAndGlyphs" stroke="#111111" stroke-width="0.15">як графіки фактичної відповідності напору та продуктивності! Залежно від фактичних характеристик системи, та положення робочих точок у режимі</text>
<text x="30.5" y="920" font-size="11.6" font-weight="700" fill="#111111" text-anchor="start" textLength="655.5" lengthAdjust="spacingAndGlyphs" stroke="#111111" stroke-width="0.15">реального часу, значення напору та продуктивності можуть суттєво відрізнятись від точок на графіках!</text>
</svg>
</body></html>
